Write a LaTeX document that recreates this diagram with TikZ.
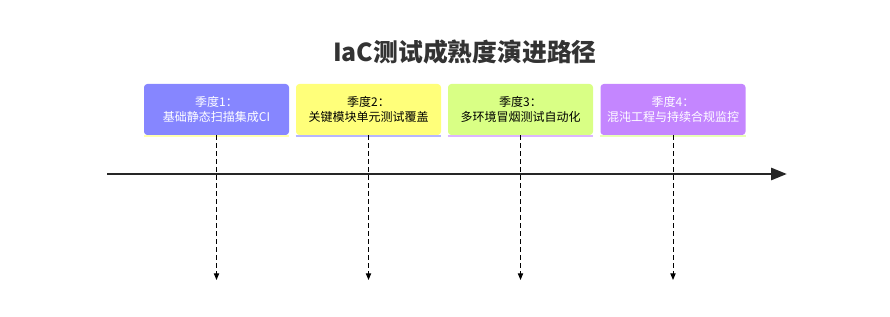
\documentclass[tikz,border=0pt]{standalone}
\usepackage{fontspec}
\setmainfont{Noto Sans CJK SC}
\usetikzlibrary{arrows.meta}
\definecolor{phaseA}{HTML}{8686FF}
\definecolor{phaseB}{HTML}{FFFF7A}
\definecolor{phaseC}{HTML}{D9FF85}
\definecolor{phaseD}{HTML}{C486FF}
\definecolor{titlegray}{HTML}{333333}
\begin{document}
\begin{tikzpicture}[x=0.75pt,y=-0.75pt,
  phase/.style={rounded corners=2.5pt, minimum width=108.75pt, minimum height=38.25pt,
    inner sep=0pt, align=center, font=\fontsize{9}{11.4}\selectfont},
  guide/.style={dashed, dash pattern=on 3.75pt off 2.25pt, line width=0.75pt,
    -{Triangle[length=5pt,width=4pt]}},
  strip/.style={line width=1.2pt}]
  \useasboundingbox (0,0) rectangle (890,317);
  % Title
  \node[font=\bfseries\fontsize{18.6}{22}\selectfont, text=titlegray] (title) at (465,52) {IaC测试成熟度演进路径};
  % Time axis
  \coordinate (axisL) at (107,174);
  \coordinate (axisR) at (787,174);
  \draw[line width=2.2pt, black!85, -{Triangle[length=12pt,width=9pt]}] (axisL) -- (axisR);
  % Phase boxes
  \node[phase, fill=phaseA, text=white] (q1) at (216.5,109.5) {季度1：\\基础静态扫描集成CI};
  \node[phase, fill=phaseB, text=black] (q2) at (368.5,109.5) {季度2：\\关键模块单元测试覆盖};
  \node[phase, fill=phaseC, text=black] (q3) at (520.5,109.5) {季度3：\\多环境冒烟测试自动化};
  \node[phase, fill=phaseD, text=white] (q4) at (673,109.5) {季度4：\\混沌工程与持续合规监控};
  % Thin strips under the boxes
  \draw[strip, phaseB!60] ([yshift=-0.6pt]q1.south west) -- ([yshift=-0.6pt]q1.south east);
  \draw[strip, phaseA!60] ([yshift=-0.6pt]q2.south west) -- ([yshift=-0.6pt]q2.south east);
  \draw[strip, phaseD!60] ([yshift=-0.6pt]q3.south west) -- ([yshift=-0.6pt]q3.south east);
  \draw[strip, phaseC!60] ([yshift=-0.6pt]q4.south west) -- ([yshift=-0.6pt]q4.south east);
  % Dashed drop lines
  \coordinate (e1) at (216.5,280);
  \coordinate (e2) at (368.5,280);
  \coordinate (e3) at (520.5,280);
  \coordinate (e4) at (673,280);
  \draw[guide] (q1.south) -- (e1);
  \draw[guide] (q2.south) -- (e2);
  \draw[guide] (q3.south) -- (e3);
  \draw[guide] (q4.south) -- (e4);
\end{tikzpicture}
\end{document}
